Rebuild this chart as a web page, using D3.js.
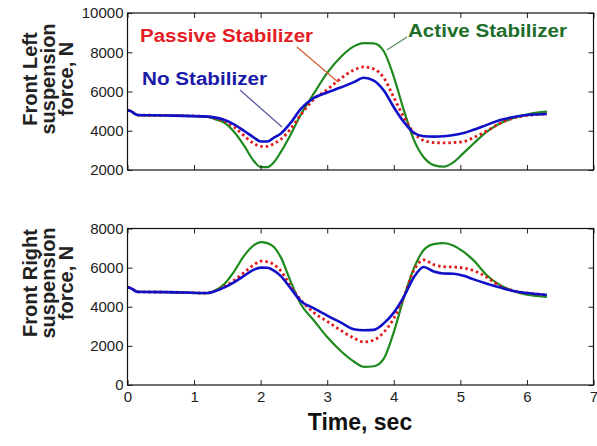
<!DOCTYPE html>
<html lang="en">
<head>
  <meta charset="UTF-8">
  <title>Suspension force</title>
  <style>
    * {
      margin: 0;
      padding: 0;
    }
    body {
      background: #fff;
    }
    svg text {
      font-family: "Liberation Sans", Arial, sans-serif;
    }
  </style>
</head>
<body>
  <script src="https://d3js.org/d3.v7.min.js"></script>
  <script>
    const width = 597;
    const height = 446;

    // time axis, seconds
    const time = [0, 0.05, 0.15, 0.6, 1.2, 1.3, 1.45, 1.6, 1.75, 1.9, 2.0, 2.1, 2.2, 2.3, 2.45, 2.6, 2.8, 3.0, 3.2, 3.4,
      3.55, 3.7, 3.85, 4.0, 4.15, 4.3, 4.45, 4.6, 4.75, 4.9, 5.05, 5.2, 5.4, 5.6, 5.8, 6.0, 6.15, 6.3];

    // front left suspension force, N
    const leftNone = [5050, 5000, 4800, 4780, 4720, 4680, 4560, 4330, 4000, 3650, 3450, 3450, 3650, 3850, 4400, 5100, 5680, 5950, 6200, 6480,
      6700, 6550, 6050, 5200, 4450, 3900, 3720, 3700, 3720, 3780, 3880, 4050, 4300, 4550, 4700, 4800, 4830, 4850];
    const leftPassive = [5050, 5000, 4800, 4780, 4720, 4660, 4500, 4200, 3750, 3350, 3200, 3200, 3350, 3550, 4100, 4800, 5600, 6100, 6650, 7100,
      7250, 7150, 6700, 5700, 4700, 3900, 3500, 3400, 3380, 3400, 3450, 3650, 4000, 4380, 4650, 4780, 4830, 4850];
    const leftActive = [5050, 5000, 4800, 4780, 4720, 4600, 4420, 3950, 3250, 2450, 2150, 2150, 2400, 2900, 3800, 4800, 5900, 6950, 7750, 8300,
      8470, 8450, 8050, 6750, 5060, 3550, 2650, 2250, 2170, 2400, 2870, 3350, 3950, 4380, 4650, 4830, 4920, 4970];

    // front right suspension force, N
    const rightNone = [5000, 4950, 4760, 4750, 4700, 4780, 4980, 5250, 5580, 5900, 6000, 5990, 5850, 5580, 4950, 4300, 3920, 3550, 3200, 2850,
      2800, 2820, 3150, 3700, 4500, 5500, 6030, 5800, 5700, 5690, 5580, 5400, 5180, 4980, 4800, 4700, 4650, 4600];
    const rightPassive = [5000, 4950, 4760, 4750, 4700, 4790, 5020, 5350, 5750, 6150, 6330, 6300, 6150, 5850, 5050, 4350, 3700, 3250, 2800, 2400,
      2200, 2300, 2700, 3400, 4500, 5850, 6400, 6150, 6050, 6030, 5980, 5850, 5500, 5050, 4820, 4700, 4650, 4600];
    const rightActive = [5000, 4950, 4760, 4750, 4700, 4800, 5150, 5800, 6600, 7150, 7300, 7250, 7050, 6550, 5300, 4150, 3300, 2450, 1750, 1200,
      930, 960, 1350, 2700, 4450, 5950, 6900, 7200, 7250, 7120, 6800, 6370, 5600, 5100, 4800, 4620, 4550, 4500];

    const xTicks = [0, 1, 2, 3, 4, 5, 6, 7];
    const leftTicks = [2000, 4000, 6000, 8000, 10000];
    const rightTicks = [0, 2000, 4000, 6000, 8000];

    const colors = {
      none: '#1010c8',
      passive: '#e01818',
      active: '#1e8a1e',
    }

    const svg = d3.select('body')
      .append('svg')
      .attr('width', width)
      .attr('height', height)

    const xScale = d3.scaleLinear()
      .domain([0, 7])
      .range([127.5, 593.5])

    const panels = [
      {
        top: 13, bottom: 170, domain: [2000, 10000], ticks: leftTicks,
        label: ['Front Left', 'suspension', 'force, N'], labelY: 79,
        series: [leftActive, leftPassive, leftNone], showX: false,
      },
      {
        top: 228.5, bottom: 385, domain: [0, 8000], ticks: rightTicks,
        label: ['Front Right', 'suspension', 'force, N'], labelY: 283,
        series: [rightActive, rightPassive, rightNone], showX: true,
      },
    ]

    const styles = [
      { color: colors.active, width: 2.2, dash: null },
      { color: colors.passive, width: 2.8, dash: '2.5,3' },
      { color: colors.none, width: 2.6, dash: null },
    ]

    panels.forEach(p => {
      const yScale = d3.scaleLinear()
        .domain(p.domain)
        .range([p.bottom, p.top])

      const [x0, x1] = xScale.range()

      // lines
      const line = d3.line()
        .x((d, i) => xScale(time[i]))
        .y(d => yScale(d))
        .curve(d3.curveMonotoneX)

      p.series.forEach((s, k) => {
        svg.append('path')
          .datum(s)
          .attr('d', line)
          .attr('fill', 'none')
          .attr('stroke', styles[k].color)
          .attr('stroke-width', styles[k].width)
          .attr('stroke-dasharray', styles[k].dash)
          .attr('stroke-linejoin', 'round')
      })

      // axes, MATLAB style with inward ticks on all sides
      const yAxis = d3.axisLeft(yScale)
        .tickValues(p.ticks)
        .tickSize(-5)
        .tickPadding(4)
        .tickFormat(d3.format('d'))
      svg.append('g')
        .attr('transform', `translate(${x0}, 0)`)
        .call(yAxis)

      svg.append('g')
        .attr('transform', `translate(${x1}, 0)`)
        .call(d3.axisRight(yScale).tickValues(p.ticks).tickSize(-5).tickFormat(''))

      svg.append('g')
        .attr('transform', `translate(0, ${p.top})`)
        .call(d3.axisTop(xScale).tickValues(xTicks).tickSize(-5).tickFormat(''))

      const xAxis = d3.axisBottom(xScale)
        .tickValues(xTicks)
        .tickSize(-5)
        .tickPadding(6)
        .tickFormat(p.showX ? d3.format('d') : '')
      svg.append('g')
        .attr('transform', `translate(0, ${p.bottom})`)
        .call(xAxis)

      svg.selectAll('.domain').remove()
      svg.selectAll('.tick line').attr('stroke', '#222')
      svg.selectAll('.tick text')
        .attr('font-family', '"Liberation Sans", Arial, sans-serif')
        .attr('font-size', 15)
        .attr('fill', '#222')

      svg.append('rect')
        .attr('x', x0)
        .attr('y', p.top)
        .attr('width', x1 - x0)
        .attr('height', p.bottom - p.top)
        .attr('fill', 'none')
        .attr('stroke', '#111')
        .attr('stroke-width', 1.2)

      // y label, three rotated lines
      const lab = svg.append('text')
        .attr('transform', `translate(29, ${p.labelY}) rotate(-90)`)
        .attr('text-anchor', 'middle')
        .attr('font-size', 20)
        .attr('font-weight', 'bold')
        .attr('fill', '#222')
      p.label.forEach((t, i) => {
        lab.append('tspan')
          .attr('x', 0)
          .attr('dy', i === 0 ? 8 : 18)
          .text(t)
      })
    })

    // x label
    svg.append('text')
      .attr('x', 360)
      .attr('y', 430)
      .attr('text-anchor', 'middle')
      .attr('font-size', 23)
      .attr('font-weight', 'bold')
      .attr('fill', '#111')
      .text('Time, sec')

    // annotations with leader lines
    const notes = [
      { text: 'Passive Stabilizer', x: 140, y: 42, len: 173, color: '#e41c24', from: [297, 47], to: [338, 82], lineColor: '#d85a30' },
      { text: 'No Stabilizer', x: 142, y: 85, len: 125, color: '#1a1aa8', from: [240, 90], to: [282, 127], lineColor: '#5a5aa0' },
      { text: 'Active Stabilizer', x: 408, y: 37, len: 159, color: '#1e6e2a', from: [407, 37], to: [387, 50], lineColor: '#5a8a5a' },
    ]

    notes.forEach(n => {
      svg.append('line')
        .attr('x1', n.from[0])
        .attr('y1', n.from[1])
        .attr('x2', n.to[0])
        .attr('y2', n.to[1])
        .attr('stroke', n.lineColor)
        .attr('stroke-width', 1.2)
      svg.append('text')
        .attr('x', n.x)
        .attr('y', n.y)
        .attr('font-size', 18)
        .attr('font-weight', 'bold')
        .attr('fill', n.color)
        .attr('textLength', n.len)
        .attr('lengthAdjust', 'spacingAndGlyphs')
        .text(n.text)
    })
  </script>
</body>
</html>
